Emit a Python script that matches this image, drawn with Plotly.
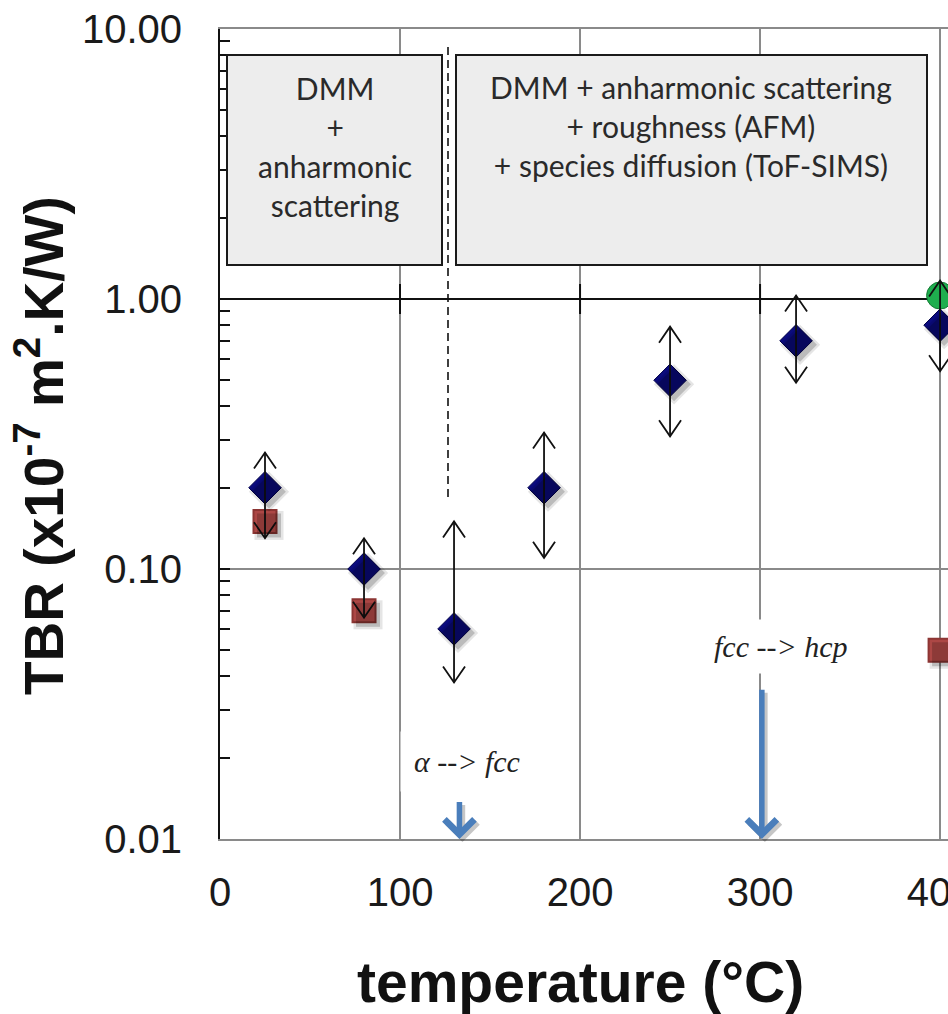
import numpy as np
import plotly.graph_objects as go

# Measured thermal boundary resistance (x1e-7 m2.K/W) vs annealing temperature
temp_meas = [25, 80, 130, 180, 250, 320, 400]
tbr_meas = [0.20, 0.10, 0.06, 0.20, 0.50, 0.70, 0.80]
tbr_upper = [0.27, 0.13, 0.15, 0.32, 0.79, 1.03, 1.17]
tbr_lower = [0.13, 0.066, 0.038, 0.11, 0.31, 0.49, 0.54]

# Model estimate (DMM + anharmonic scattering)
temp_model = [25, 80, 400]
tbr_model = [0.15, 0.07, 0.05]

# Model with roughness + species diffusion
temp_full = [400]
tbr_full = [1.03]

# Phase transitions
trans_temp = [133, 301]
trans_tail = [0.0139, 0.0362]
trans_text = ["<i>α --> fcc</i>", "<i>fcc --> hcp</i>"]

x_ticks = [0, 100, 200, 300, 400]
x_ticktext = ["0", "100", "200", "300", "400"]
y_ticks = [0.01, 0.1, 1, 10]
y_ticktext = ["0.01", "0.10", "1.00", "10.00"]
x_cross = 1.0  # value where the horizontal axis crosses

# ---- layout geometry ----
W, H = 948, 1014
ML, MR, MT, MB = 220, 0, 29, 175
PW, PH = W - ML - MR, H - MT - MB
X_RANGE = [0, 404.4]
LOG_RANGE = [-2, 1]
PX_X = PW / (X_RANGE[1] - X_RANGE[0])
PX_DEC = PH / (LOG_RANGE[1] - LOG_RANGE[0])


def xpx(px):
    return (px - ML) / PW


def ypx(px):
    return (MT + PH - px) / PH


GRID = "#8a8a8a"
NAVY = "#0b0b7e"
BLUE = "#4a7ebb"

fig = go.Figure()

# horizontal axis line at the crossing value, with cross tick marks
cross_x = [X_RANGE[0], X_RANGE[1], None]
cross_y = [x_cross, x_cross, None]
tk = 10 ** (15 / PX_DEC)
for t in x_ticks[1:]:
    cross_x += [t, t, None]
    cross_y += [x_cross / tk, x_cross * tk, None]
fig.add_trace(go.Scatter(x=cross_x, y=cross_y, mode="lines", line=dict(color="#111111", width=2),
                         hoverinfo="skip", showlegend=False, cliponaxis=False))

# soft drop shadows drawn on offset copies of the axes
sx = 4 / PX_X
sy = 4 / PX_DEC
for size_add, alpha in [(6, 0.10), (1, 0.18)]:
    fig.add_trace(go.Scatter(x=temp_meas, y=tbr_meas, xaxis="x2", yaxis="y2", mode="markers",
                             marker=dict(symbol="diamond", size=25 + size_add,
                                         color=f"rgba(0,0,0,{alpha})", line=dict(width=0)),
                             hoverinfo="skip", showlegend=False))
    fig.add_trace(go.Scatter(x=temp_model, y=tbr_model, xaxis="x2", yaxis="y2", mode="markers",
                             marker=dict(symbol="square", size=23 + size_add,
                                         color=f"rgba(0,0,0,{alpha})", line=dict(width=0)),
                             hoverinfo="skip", showlegend=False))

fig.add_trace(go.Scatter(x=temp_full, y=tbr_full, mode="markers",
                         marker=dict(symbol="circle", size=27, color="#1fae4e",
                                     line=dict(color="#137a33", width=1)),
                         showlegend=False))
fig.add_trace(go.Scatter(x=temp_model, y=tbr_model, mode="markers",
                         marker=dict(symbol="square", size=23, color="#c0504d",
                                     line=dict(color="#8c3533", width=2)),
                         showlegend=False))
fig.add_trace(go.Scatter(x=temp_meas, y=tbr_meas, mode="markers",
                         marker=dict(symbol="diamond", size=25, color=NAVY,
                                     line=dict(color="#00004a", width=1)),
                         showlegend=False))

# uncertainty stems with open arrowheads at both ends
stem_x, stem_y = [], []
head_x, head_y = [], []
ax_half = 11 / PX_X
ay_len = 16 / PX_DEC
for t, lo, hi in zip(temp_meas, tbr_lower, tbr_upper):
    stem_x += [t, t, None]
    stem_y += [lo, hi, None]
    head_x += [t - ax_half, t, t + ax_half, None]
    head_y += [hi * 10 ** (-ay_len), hi, hi * 10 ** (-ay_len), None]
    head_x += [t - ax_half, t, t + ax_half, None]
    head_y += [lo * 10 ** (ay_len), lo, lo * 10 ** (ay_len), None]
fig.add_trace(go.Scatter(x=stem_x, y=stem_y, mode="lines",
                         line=dict(color="#111111", width=1.8),
                         hoverinfo="skip", showlegend=False))
fig.add_trace(go.Scatter(x=head_x, y=head_y, mode="lines",
                         line=dict(color="#111111", width=1.8),
                         hoverinfo="skip", showlegend=False))

shapes = []
# model description boxes
box_y0, box_y1 = ypx(265), ypx(55)
shapes.append(dict(type="rect", xref="paper", yref="paper", x0=xpx(227), x1=xpx(442),
                   y0=box_y0, y1=box_y1,
                   fillcolor="#ededed", line=dict(color="#1a1a1a", width=2), layer="above"))
shapes.append(dict(type="rect", xref="paper", yref="paper", x0=xpx(456), x1=xpx(927),
                   y0=box_y0, y1=box_y1,
                   fillcolor="#ededed", line=dict(color="#1a1a1a", width=2), layer="above"))
# regime separator
shapes.append(dict(type="line", xref="paper", yref="paper", x0=xpx(448), x1=xpx(448),
                   y0=ypx(497), y1=ypx(43),
                   line=dict(color="#111111", width=1.6, dash="8px,5px"), layer="above"))

annotations = []
# phase transition arrows (shadow first)
for t, tail in zip(trans_temp, trans_tail):
    for col, xs, ys in [("rgba(0,0,0,0.22)", 3, -3), (BLUE, 0, 0)]:
        annotations.append(dict(x=t, y=np.log10(0.01), ax=t, ay=np.log10(tail), xref="x", yref="y",
                                axref="x", ayref="y", text="", showarrow=True, arrowhead=4,
                                arrowsize=1.05, arrowwidth=5.5, arrowcolor=col, xshift=xs, yshift=ys))
label_font = dict(family="Liberation Serif", size=30, color="#222222")
annotations.append(dict(x=xpx(467), y=ypx(761), xref="paper", yref="paper", text=trans_text[0],
                        xanchor="center", yanchor="middle",
                        showarrow=False, bgcolor="white", borderpad=13, font=label_font))
annotations.append(dict(x=xpx(781), y=ypx(646), xref="paper", yref="paper", text=trans_text[1],
                        xanchor="center", yanchor="middle",
                        showarrow=False, bgcolor="white", borderpad=10, font=label_font))

box_font = dict(family="Lato", size=30, color="#2a2a2a")
annotations.append(dict(x=xpx(334.5), y=ypx(146), xref="paper", yref="paper",
                        xanchor="center", yanchor="middle",
                        text="DMM<br>+<br>anharmonic<br>scattering", showarrow=False, font=box_font))
annotations.append(dict(x=xpx(691), y=ypx(126), xref="paper", yref="paper",
                        xanchor="center", yanchor="middle",
                        text="DMM + anharmonic scattering<br>+ roughness (AFM)<br>+ species diffusion (ToF-SIMS)",
                        showarrow=False, font=box_font))

# axis titles
annotations.append(dict(x=xpx(40), y=ypx(446), xref="paper", yref="paper",
                        xanchor="center", yanchor="middle",
                        text="<b>TBR (x10<sup>-7</sup> m<sup>2</sup>.K/W)</b>", textangle=-90,
                        showarrow=False,
                        font=dict(family="Liberation Sans, Arial", size=55, color="#111111")))
annotations.append(dict(x=xpx(580), y=ypx(982), xref="paper", yref="paper",
                        xanchor="center", yanchor="middle",
                        text="<b>temperature (°C)</b>", showarrow=False,
                        font=dict(family="Liberation Sans, Arial", size=57, color="#111111")))

minor_vals = [m * 10.0 ** d for d in range(-2, 1) for m in range(2, 10)]
tick_font = dict(family="Liberation Sans, Arial", size=40, color="#1a1a1a")

fig.update_layout(
    width=W, height=H,
    margin=dict(l=ML, r=MR, t=MT, b=MB, autoexpand=False),
    paper_bgcolor="white", plot_bgcolor="white",
    showlegend=False,
    shapes=shapes, annotations=annotations,
    xaxis=dict(range=X_RANGE, tickvals=x_ticks, ticktext=x_ticktext, showgrid=True,
               gridcolor=GRID, gridwidth=1.5, zeroline=False, showline=True, linecolor=GRID,
               linewidth=2, mirror=True, ticks="", tickfont=tick_font, ticklabelstandoff=17,
               ticklabeloverflow="allow", automargin=False, fixedrange=True),
    yaxis=dict(type="log", range=LOG_RANGE, tickvals=y_ticks, ticktext=y_ticktext,
               showgrid=True, gridcolor=GRID, gridwidth=1.5, zeroline=False, showline=True,
               linecolor="#111111", linewidth=2, ticks="inside", ticklen=10, tickwidth=1.5,
               tickcolor="#111111", tickfont=tick_font, ticklabelstandoff=28,
               minor=dict(tickvals=minor_vals, ticks="inside", ticklen=10, tickwidth=1.5,
                          tickcolor="#111111", showgrid=False),
               automargin=False, fixedrange=True),
    xaxis2=dict(range=[X_RANGE[0] - sx, X_RANGE[1] - sx], overlaying="x", visible=False),
    yaxis2=dict(type="log", range=[LOG_RANGE[0] + sy, LOG_RANGE[1] + sy], overlaying="y",
                visible=False),
)

fig.write_html("out.html")
